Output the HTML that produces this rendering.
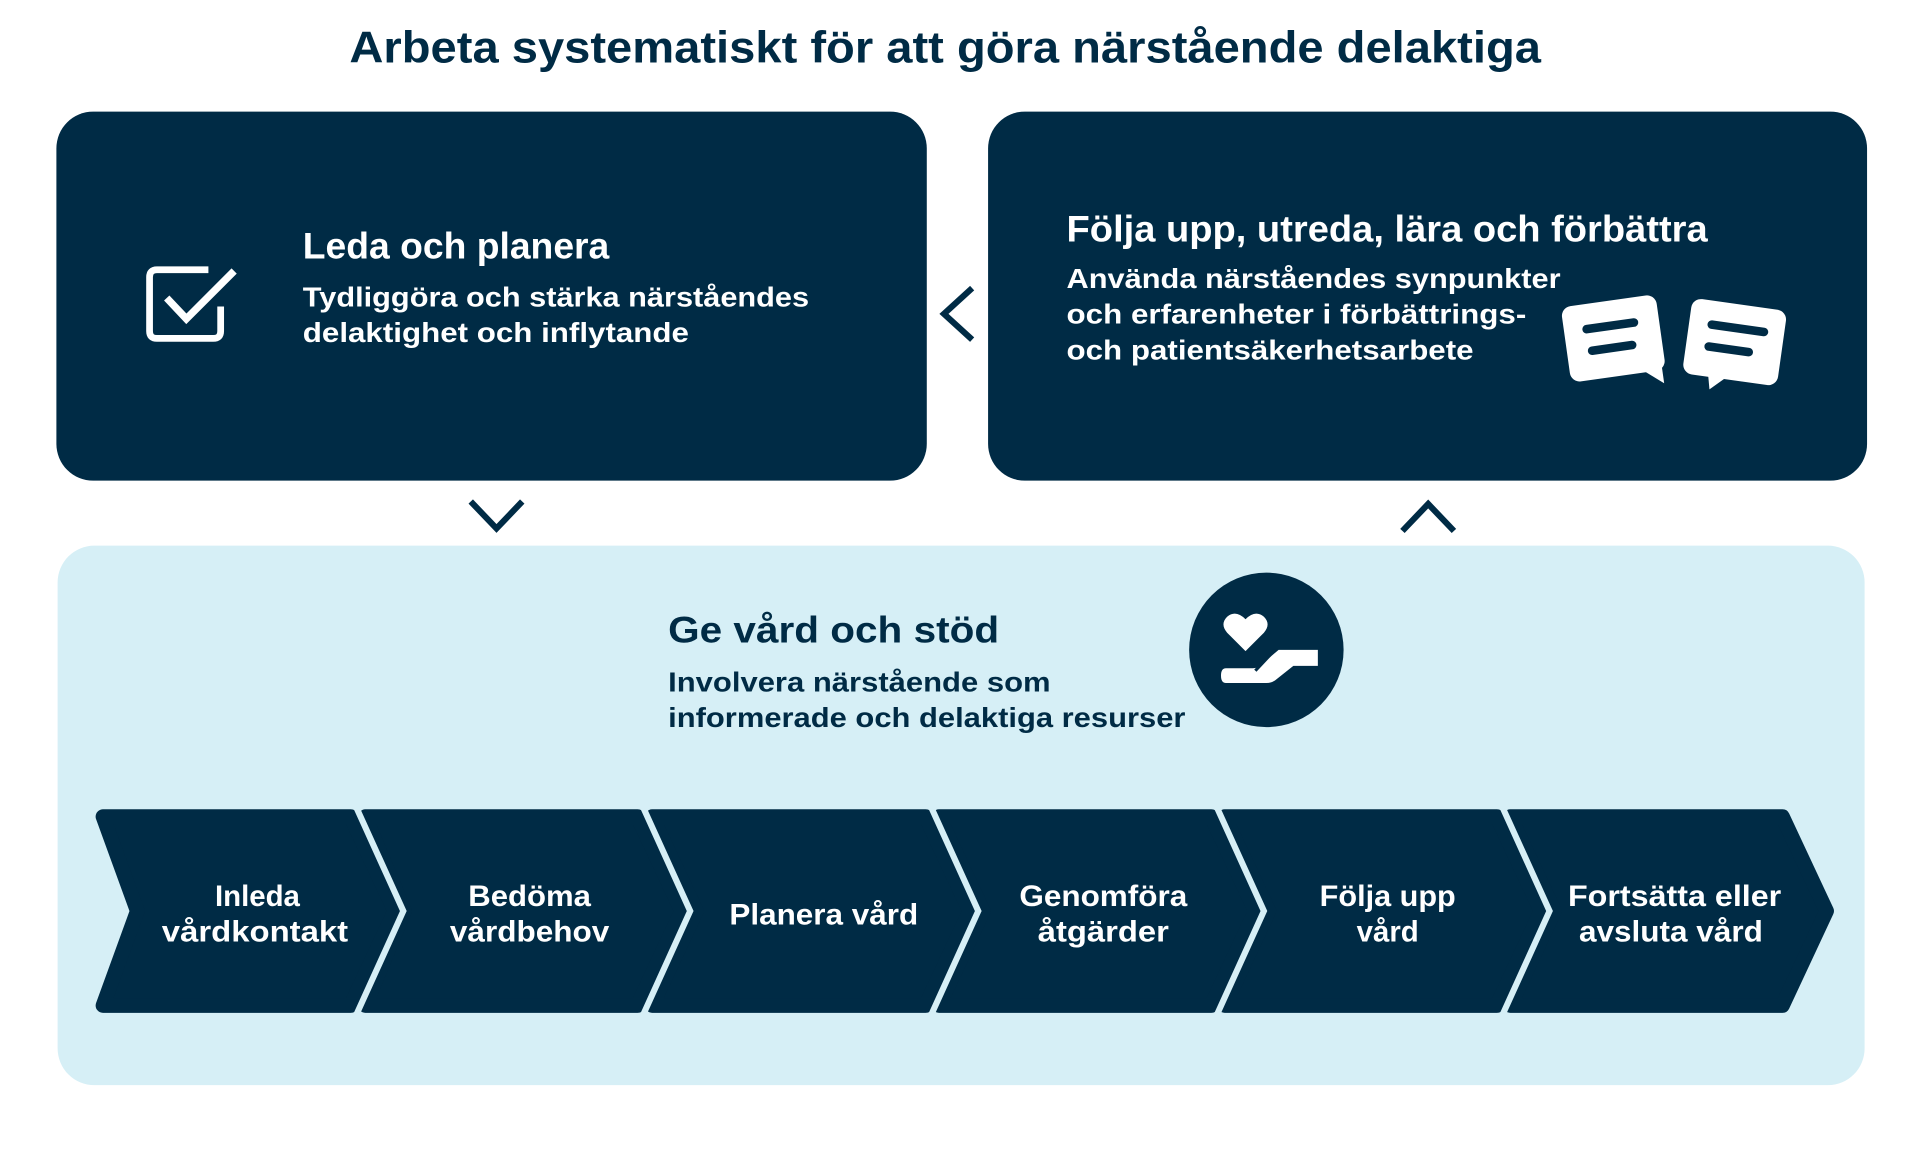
<!DOCTYPE html>
<html><head><meta charset="utf-8"><style>
html,body{margin:0;padding:0;background:#fff;}
svg{display:block;}
text{font-family:"Liberation Sans",sans-serif;font-weight:bold;}
</style></head><body>
<svg width="1921" height="1171" viewBox="0 0 1567 955" preserveAspectRatio="none" xmlns="http://www.w3.org/2000/svg">
<rect width="1567" height="955" fill="#fff"/>
<text x="285" y="51" font-size="36" fill="#002b45" textLength="972" lengthAdjust="spacingAndGlyphs">Arbeta systematiskt för att göra närstående delaktiga</text>

<rect x="46" y="91" width="710" height="301" rx="30" fill="#002b45"/>
<rect x="806" y="91" width="717" height="301" rx="30" fill="#002b45"/>
<rect x="47" y="445" width="1474" height="440" rx="30" fill="#d6eff6"/>

<polyline points="793,235 770,256 793,277" fill="none" stroke="#002b45" stroke-width="5"/>
<polyline points="384,409 405,431 426,409" fill="none" stroke="#002b45" stroke-width="5"/>
<polyline points="1144,433 1165,411 1186,433" fill="none" stroke="#002b45" stroke-width="5"/>

<path d="M170,220 H128 Q122,220 122,226 V270 Q122,276 128,276 H174 Q180,276 180,270 V250" fill="none" stroke="#fff" stroke-width="5.5" stroke-linejoin="round"/>
<polyline points="136,243 152,260 191,221" fill="none" stroke="#fff" stroke-width="6"/>

<text x="247" y="211" font-size="30" fill="#fff" textLength="250" lengthAdjust="spacingAndGlyphs">Leda och planera</text>
<text x="247" y="250" font-size="23" fill="#fff" textLength="413" lengthAdjust="spacingAndGlyphs">Tydliggöra och stärka närståendes</text>
<text x="247" y="279" font-size="23" fill="#fff" textLength="315" lengthAdjust="spacingAndGlyphs">delaktighet och inflytande</text>

<text x="870" y="197" font-size="30" fill="#fff" textLength="523" lengthAdjust="spacingAndGlyphs">Följa upp, utreda, lära och förbättra</text>
<text x="870" y="235" font-size="23" fill="#fff" textLength="403" lengthAdjust="spacingAndGlyphs">Använda närståendes synpunkter</text>
<text x="870" y="264" font-size="23" fill="#fff" textLength="375" lengthAdjust="spacingAndGlyphs">och erfarenheter i förbättrings-</text>
<text x="870" y="293" font-size="23" fill="#fff" textLength="332" lengthAdjust="spacingAndGlyphs">och patientsäkerhetsarbete</text>

<g transform="rotate(-8 1316 276)">
<rect x="1277" y="245" width="78" height="62" rx="8" fill="#fff"/>
<polygon points="1330,300 1352,300 1352,318" fill="#fff"/>
<rect x="1292" y="262" width="46" height="7" rx="3.5" fill="#002b45"/>
<rect x="1294" y="280" width="40" height="7" rx="3.5" fill="#002b45"/>
</g>
<g transform="rotate(8 1415 279)">
<rect x="1376" y="248" width="78" height="62" rx="8" fill="#fff"/>
<polygon points="1396,303 1418,303 1400,320" fill="#fff"/>
<rect x="1391" y="264" width="50" height="7" rx="3.5" fill="#002b45"/>
<rect x="1391" y="282" width="40" height="7" rx="3.5" fill="#002b45"/>
</g>

<text x="545" y="524" font-size="30" fill="#002b45" textLength="270" lengthAdjust="spacingAndGlyphs">Ge vård och stöd</text>
<text x="545" y="564" font-size="23" fill="#002b45" textLength="312" lengthAdjust="spacingAndGlyphs">Involvera närstående som</text>
<text x="545" y="593" font-size="23" fill="#002b45" textLength="422" lengthAdjust="spacingAndGlyphs">informerade och delaktiga resurser</text>

<circle cx="1033" cy="530" r="63" fill="#002b45"/>
<path d="M1016,531 L1001,516 Q995,509 1001,503 Q1008,497 1016,505 Q1024,497 1031,503 Q1037,509 1031,516 Z" fill="#fff"/>
<path d="M1000,545 H1022 Q1026,545 1030,541 L1043,530 H1075 V543 H1055 L1040,555 Q1037,557 1033,557 H1000 Q996,557 996,551 Q996,545 1000,545 Z" fill="#fff"/>
<path d="M1024,547 L1040,530" stroke="#002b45" stroke-width="2.5"/>

<g fill="#002b45" stroke="#002b45" stroke-width="12" stroke-linejoin="round">
<polygon points="84,666 286,666 322,743 286,820 84,820 112,743"/>
<polygon points="298,666 520,666 556,743 520,820 298,820 330,743"/>
<polygon points="532,666 755,666 791,743 755,820 532,820 568,743"/>
<polygon points="766,666 988,666 1024,743 988,820 766,820 802,743"/>
<polygon points="999,666 1221,666 1257,743 1221,820 999,820 1035,743"/>
<polygon points="1232,666 1454,666 1490,743 1454,820 1232,820 1268,743"/>
</g>
<g fill="none" stroke="#d6eff6" stroke-width="5">
<polyline points="290,657 329,743 290,829"/>
<polyline points="524,657 563,743 524,829"/>
<polyline points="759,657 798,743 759,829"/>
<polyline points="992,657 1031,743 992,829"/>
<polyline points="1225,657 1264,743 1225,829"/>
</g>
<g font-size="24" fill="#fff" text-anchor="middle">
<text x="210" y="739">Inleda</text>
<text x="208" y="768" textLength="152" lengthAdjust="spacingAndGlyphs">vårdkontakt</text>
<text x="432" y="739" textLength="100" lengthAdjust="spacingAndGlyphs">Bedöma</text>
<text x="432" y="768" textLength="130" lengthAdjust="spacingAndGlyphs">vårdbehov</text>
<text x="672" y="754" textLength="154" lengthAdjust="spacingAndGlyphs">Planera vård</text>
<text x="900" y="739" textLength="137" lengthAdjust="spacingAndGlyphs">Genomföra</text>
<text x="900" y="768" textLength="107" lengthAdjust="spacingAndGlyphs">åtgärder</text>
<text x="1132" y="739" textLength="111" lengthAdjust="spacingAndGlyphs">Följa upp</text>
<text x="1132" y="768">vård</text>
<text x="1366" y="739" textLength="174" lengthAdjust="spacingAndGlyphs">Fortsätta eller</text>
<text x="1363" y="768" textLength="150" lengthAdjust="spacingAndGlyphs">avsluta vård</text>
</g>
</svg>
</body></html>
